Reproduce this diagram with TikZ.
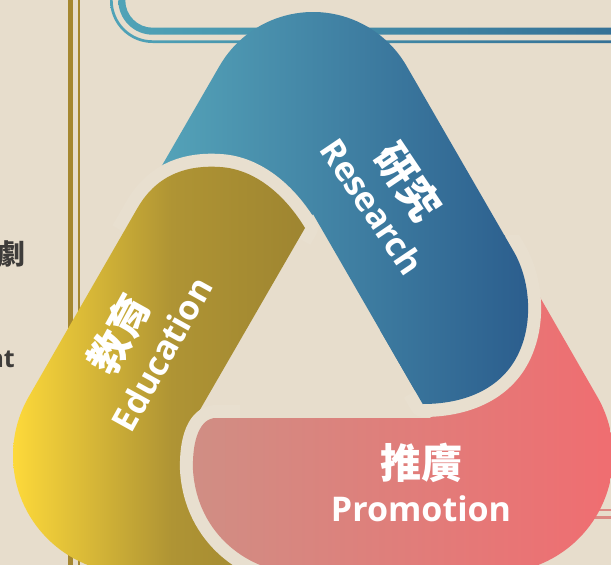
\documentclass[tikz,border=0pt]{standalone}
\usepackage{fontspec}
\setmainfont{Open Sans}
\newfontfamily\cjk{Noto Sans CJK TC}
\definecolor{bgc}{RGB}{231,221,204}
\definecolor{gapc}{RGB}{232,223,207}
\definecolor{bluel}{RGB}{88,169,188}
\definecolor{blued}{RGB}{43,93,141}
\definecolor{goldl}{RGB}{253,217,58}
\definecolor{goldm}{RGB}{175,148,52}
\definecolor{goldd}{RGB}{155,130,48}
\definecolor{pinkl}{RGB}{208,142,132}
\definecolor{pinkd}{RGB}{241,108,112}
\definecolor{teall}{RGB}{80,163,183}
\definecolor{teald}{RGB}{52,112,150}
\definecolor{linec}{RGB}{165,135,48}
\definecolor{rosec}{RGB}{220,138,132}
\definecolor{inkc}{RGB}{62,60,58}

\begin{document}
\begin{tikzpicture}[
                x=1pt, y=-1pt,                 % 像素坐标, y 向下
                gap/.style={draw=gapc, line width=26pt, line join=round},
                bandlbl/.style={text=white, inner sep=0pt},
                zh/.style={bandlbl, font=\cjk\bfseries\fontsize{41}{41}\selectfont},
                en/.style={bandlbl, font=\bfseries\fontsize{34}{34}\selectfont},
                side/.style={text=inkc, inner sep=0pt},
                blueband/.style={left color=bluel, right color=blued}
            ]
                % 背景
                \useasboundingbox (0,0) rectangle (611,565);
                \clip (0,0) rectangle (611,565);
                \fill[bgc] (0,0) rectangle (611,565);

                % 装饰线
                \draw[linec, line width=4.4pt] (70.5,-5) -- (70.5,570);
                \draw[linec, line width=2.6pt] (79,-5) -- (79,570);
                \shade[left color=teall, right color=teald] (118.3,-10) -- (118.3,0.3)
                    arc[start angle=180, end angle=90, radius=34.4] -- (620,34.7) -- (620,27.7)
                    -- (152.7,27.7) arc[start angle=90, end angle=180, radius=27.4] -- (125.3,-10) -- cycle;
                \shade[left color=teall, right color=teald] (110,-10) -- (110,0.3)
                    arc[start angle=180, end angle=90, radius=42.7] -- (620,43) -- (620,40.3)
                    -- (152.7,40.3) arc[start angle=90, end angle=180, radius=40] -- (112.7,-10) -- cycle;
                \draw[rosec, line width=2pt] (560,510) -- (615,510);
                \draw[rosec, line width=3.5pt] (560,517.5) -- (615,517.5);

                % 侧边文字
                \node[side, font=\cjk\bfseries\fontsize{28}{28}\selectfont, anchor=east] (ju) at (26,253.5) {劇};
                \node[side, font=\bfseries\fontsize{25}{25}\selectfont, anchor=base east] (nt) at (15,367) {nt};

                % 研究 色带
                \shade[blueband] (128.2,224) -- (219.5,66) arc[start angle=210, end angle=330, radius=108]
                    -- (514,252) .. controls (530,280) and (532,318) .. (522,345)
                    .. controls (508,385) and (470,404) .. (422.7,404) -- (313,214) -- (258,301.5) -- cycle;

                % 教育 色带
                \draw[gap] (123.6,232) -- (137.5,208) .. controls (158,172.5) and (190,165) .. (220,167)
                    .. controls (255,169) and (285,195) .. (305,228) -- (299,238.4);
                \shade[left color=goldl, right color=goldd, middle color=goldm] (305,228) -- (195.2,418)
                    -- (250,418) -- (330,573) -- (130.5,573) arc[start angle=90, end angle=210, radius=117.5]
                    -- (137.5,208) .. controls (158,172.5) and (190,165) .. (220,167)
                    .. controls (255,169) and (285,195) .. (305,228) -- cycle;

                % 推廣 色带
                \draw[gap] (240,418) -- (216,418) .. controls (200,418) and (192,440) .. (193,470)
                    .. controls (197,535) and (250,573) .. (300,573) -- (330,573);
                \shade[left color=pinkl, right color=pinkd] (216,418) -- (430.8,418) -- (405,360)
                    -- (530.1,280) -- (597.3,396.75) arc[start angle=-30, end angle=90, radius=117.5]
                    -- (300,573) .. controls (250,573) and (197,535) .. (193,470)
                    .. controls (192,440) and (200,418) .. (216,418) -- cycle;

                % 研究 色带末端压在推廣之上
                \begin{scope}
                    \clip (380,235) rectangle (611,432);
                    \draw[gap] (505.3,237) -- (514,252) .. controls (530,280) and (532,318) .. (522,345)
                        .. controls (508,385) and (470,404) .. (422.7,404) -- (415,391);
                    \shade[blueband] (128.2,224) -- (219.5,66) arc[start angle=210, end angle=330, radius=108]
                        -- (514,252) .. controls (530,280) and (532,318) .. (522,345)
                        .. controls (508,385) and (470,404) .. (422.7,404) -- (313,214) -- (258,301.5) -- cycle;
                \end{scope}

                % 文字
                \node[zh, rotate=-56] (res-zh) at (408.5,182) {研究};
                \node[en, rotate=-56] (res-en) at (372.5,206.5) {Research};
                \node[zh] (pro-zh) at (421,463) {推廣};
                \node[en] (pro-en) at (421,509) {Promotion};
                \node[zh, rotate=61] (edu-zh) at (118.7,334) {教育};
                \node[en, rotate=61] (edu-en) at (161.7,354) {Education};
            \end{tikzpicture}
\end{document}
